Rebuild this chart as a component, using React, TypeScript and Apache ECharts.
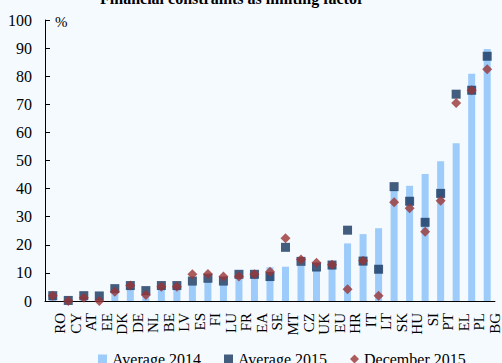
import React, { useEffect, useRef } from "react";
import * as echarts from "echarts";

const categories = ["RO","CY","AT","EE","DK","DE","NL","BE","LV","ES","FI","LU","FR","EA","SE","MT","CZ","UK","EU","HR","IT","LT","SK","HU","SI","PT","EL","PL","BG"];
const avg2014 = [1.5,0.5,1.5,1.0,4.0,4.5,2.5,5.0,5.0,5.7,6.9,5.7,8.1,9.2,12.0,12.2,12.5,11.0,13.5,20.5,23.8,25.9,39.5,41.0,45.2,49.7,56.1,80.9,89.7];
const avg2015 = [1.9,0.2,1.9,1.8,4.4,5.5,3.7,5.5,5.5,7.1,8.1,7.1,9.5,9.5,8.7,19.1,14.1,12.1,12.8,25.2,14.2,11.3,40.7,35.5,28.0,38.3,73.6,75.0,87.1];
const dec2015 = [1.9,0,1.2,0,3.3,5.5,2.1,5.1,5.1,9.5,9.6,8.7,8.7,9.5,10.4,22.3,14.8,13.6,12.9,4.2,14.3,1.9,35.1,33.0,24.6,35.7,70.5,75.0,82.5];
const yTicks = { min: 0, max: 100, interval: 10 };
const titleText = "Financial constraints as limiting factor";
const unitText = "%";

const FONT = "'Liberation Serif', 'DejaVu Serif', serif";

export default function App() {
  const ref = useRef<HTMLDivElement>(null);
  useEffect(() => {
    if (!ref.current) return;
    const chart = echarts.init(ref.current, undefined, { renderer: "svg" });
    chart.setOption({
      animation: false,
      backgroundColor: "#f5faff",
      textStyle: { fontFamily: FONT },
      graphic: [
        {
          type: "text",
          x: 232,
          y: -10,
          style: { text: titleText, font: `bold 16px ${FONT}`, fill: "#000", textAlign: "center" },
        },
        {
          type: "text",
          x: 55,
          y: 14,
          style: { text: unitText, font: `15px ${FONT}`, fill: "#000" },
        },
      ],
      grid: { left: 45, right: -4, top: 20, bottom: 62, containLabel: false },
      legend: {
        top: 346,
        left: 93,
        itemGap: 23,
        itemWidth: 9,
        itemHeight: 9,
        textStyle: { fontFamily: FONT, fontSize: 16, color: "#000" },
        data: [
          { name: "Average 2014", icon: "rect" },
          { name: "Average 2015", icon: "rect" },
          { name: "December 2015", icon: "diamond" },
        ],
      },
      xAxis: {
        type: "category",
        data: categories,
        axisLine: { lineStyle: { color: "#000", width: 1 } },
        axisTick: { inside: true, length: 4, lineStyle: { color: "#000" } },
        axisLabel: {
          rotate: 90,
          interval: 0,
          margin: 12,
          verticalAlign: "top",
          fontFamily: FONT,
          fontSize: 15,
          color: "#000",
        },
        splitLine: { show: false },
      },
      yAxis: {
        type: "value",
        min: yTicks.min,
        max: yTicks.max,
        interval: yTicks.interval,
        axisLine: { show: true, lineStyle: { color: "#000", width: 1 } },
        axisTick: { show: true, inside: true, length: 5, lineStyle: { color: "#000" } },
        axisLabel: { margin: 13, fontFamily: FONT, fontSize: 16, color: "#000" },
        splitLine: { show: false },
      },
      series: [
        {
          name: "Average 2014",
          type: "bar",
          data: avg2014,
          barWidth: 7,
          itemStyle: { color: "#9dcbfa" },
        },
        {
          name: "Average 2015",
          type: "scatter",
          data: avg2015,
          symbol: "rect",
          symbolSize: 9,
          clip: false,
          itemStyle: { color: "#17365f" },
        },
        {
          name: "December 2015",
          type: "scatter",
          data: dec2015,
          symbol: "diamond",
          symbolSize: 10,
          clip: false,
          itemStyle: { color: "#9b3535" },
        },
      ],
    });
    return () => chart.dispose();
  }, []);
  return <div ref={ref} style={{ width: 502, height: 363, position: "absolute", left: 0, top: 0 }} />;
}
